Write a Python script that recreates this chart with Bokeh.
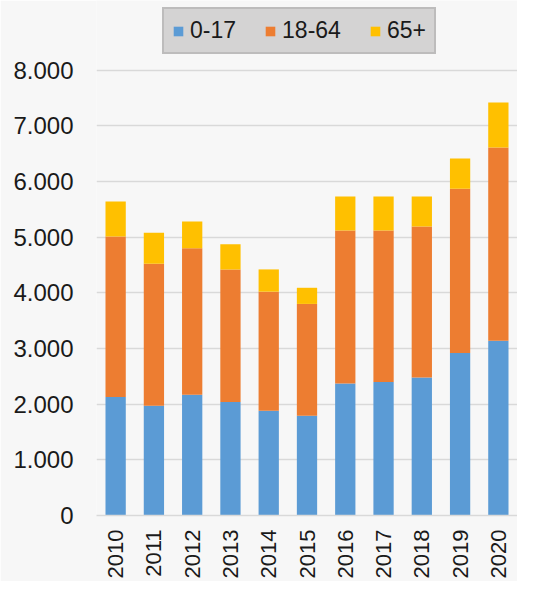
from bokeh.plotting import figure
from bokeh.models import ColumnDataSource, FixedTicker, Legend, LegendItem, Range1d, FactorRange
from bokeh.embed import file_html
from bokeh.resources import INLINE
from math import pi

years = ["2010", "2011", "2012", "2013", "2014", "2015", "2016", "2017", "2018", "2019", "2020"]
age_0_17 = [2130, 1970, 2170, 2040, 1880, 1790, 2370, 2400, 2480, 2920, 3140]
age_18_64 = [2880, 2550, 2630, 2380, 2140, 2010, 2750, 2720, 2710, 2950, 3470]
age_65_plus = [630, 560, 480, 450, 400, 290, 610, 610, 540, 540, 810]
series_labels = ["0-17", "18-64", "65+"]
series_colors = ["#5b9bd5", "#ed7d31", "#ffc000"]
y_ticks = [0, 1000, 2000, 3000, 4000, 5000, 6000, 7000, 8000]
y_tick_labels = ["0", "1.000", "2.000", "3.000", "4.000", "5.000", "6.000", "7.000", "8.000"]

FONT = "Liberation Sans"
BG = "#f7f7f7"

source = ColumnDataSource(dict(year=years, a=age_0_17, b=age_18_64, c=age_65_plus))

p = figure(
    x_range=FactorRange(*years, range_padding=0),
    y_range=Range1d(0, 9250),
    width=517, height=581,
    output_backend="svg", toolbar_location=None,
    min_border_left=96, min_border_right=0, min_border_top=0, min_border_bottom=63,
)
p.background_fill_color = BG
p.border_fill_color = BG
p.outline_line_color = None

renderers = p.vbar_stack(["a", "b", "c"], x="year", width=0.53, source=source,
                         color=series_colors, line_color=None)

# Y axis
p.yaxis.ticker = FixedTicker(ticks=y_ticks)
p.yaxis.major_label_overrides = {t: l for t, l in zip(y_ticks, y_tick_labels)}
p.yaxis.axis_line_color = None
p.yaxis.major_tick_line_color = None
p.yaxis.minor_tick_line_color = None
p.yaxis.major_label_standoff = 17
p.yaxis.major_label_text_font = FONT
p.yaxis.major_label_text_font_size = "24px"
p.yaxis.major_label_text_color = "#1a1a1a"

# X axis
p.xaxis.axis_line_color = "#d9d9d9"
p.xaxis.axis_line_width = 1.5
p.xaxis.major_tick_line_color = None
p.xaxis.minor_tick_line_color = None
p.xaxis.major_label_orientation = pi / 2
p.xaxis.major_label_standoff = 8
p.xaxis.major_label_text_font = FONT
p.xaxis.major_label_text_font_size = "22px"
p.xaxis.major_label_text_color = "#1a1a1a"

p.xgrid.grid_line_color = None
p.ygrid.grid_line_color = "#d9d9d9"
p.ygrid.grid_line_width = 1.5

legend = Legend(
    items=[LegendItem(label=lab, renderers=[r]) for lab, r in zip(series_labels, renderers)],
    orientation="horizontal",
    location=(66, 461),
    background_fill_color="#d4d3d3",
    background_fill_alpha=1,
    border_line_color="#a6a6a6",
    border_line_width=2,
    padding=8,
    spacing=28,
    glyph_width=12,
    glyph_height=12,
    label_standoff=6,
    label_text_font=FONT,
    label_text_font_size="23px",
    label_text_color="#1a1a1a",
    label_text_baseline="middle",
)
p.add_layout(legend, "center")

open("out.html", "w").write(file_html(p, INLINE))
